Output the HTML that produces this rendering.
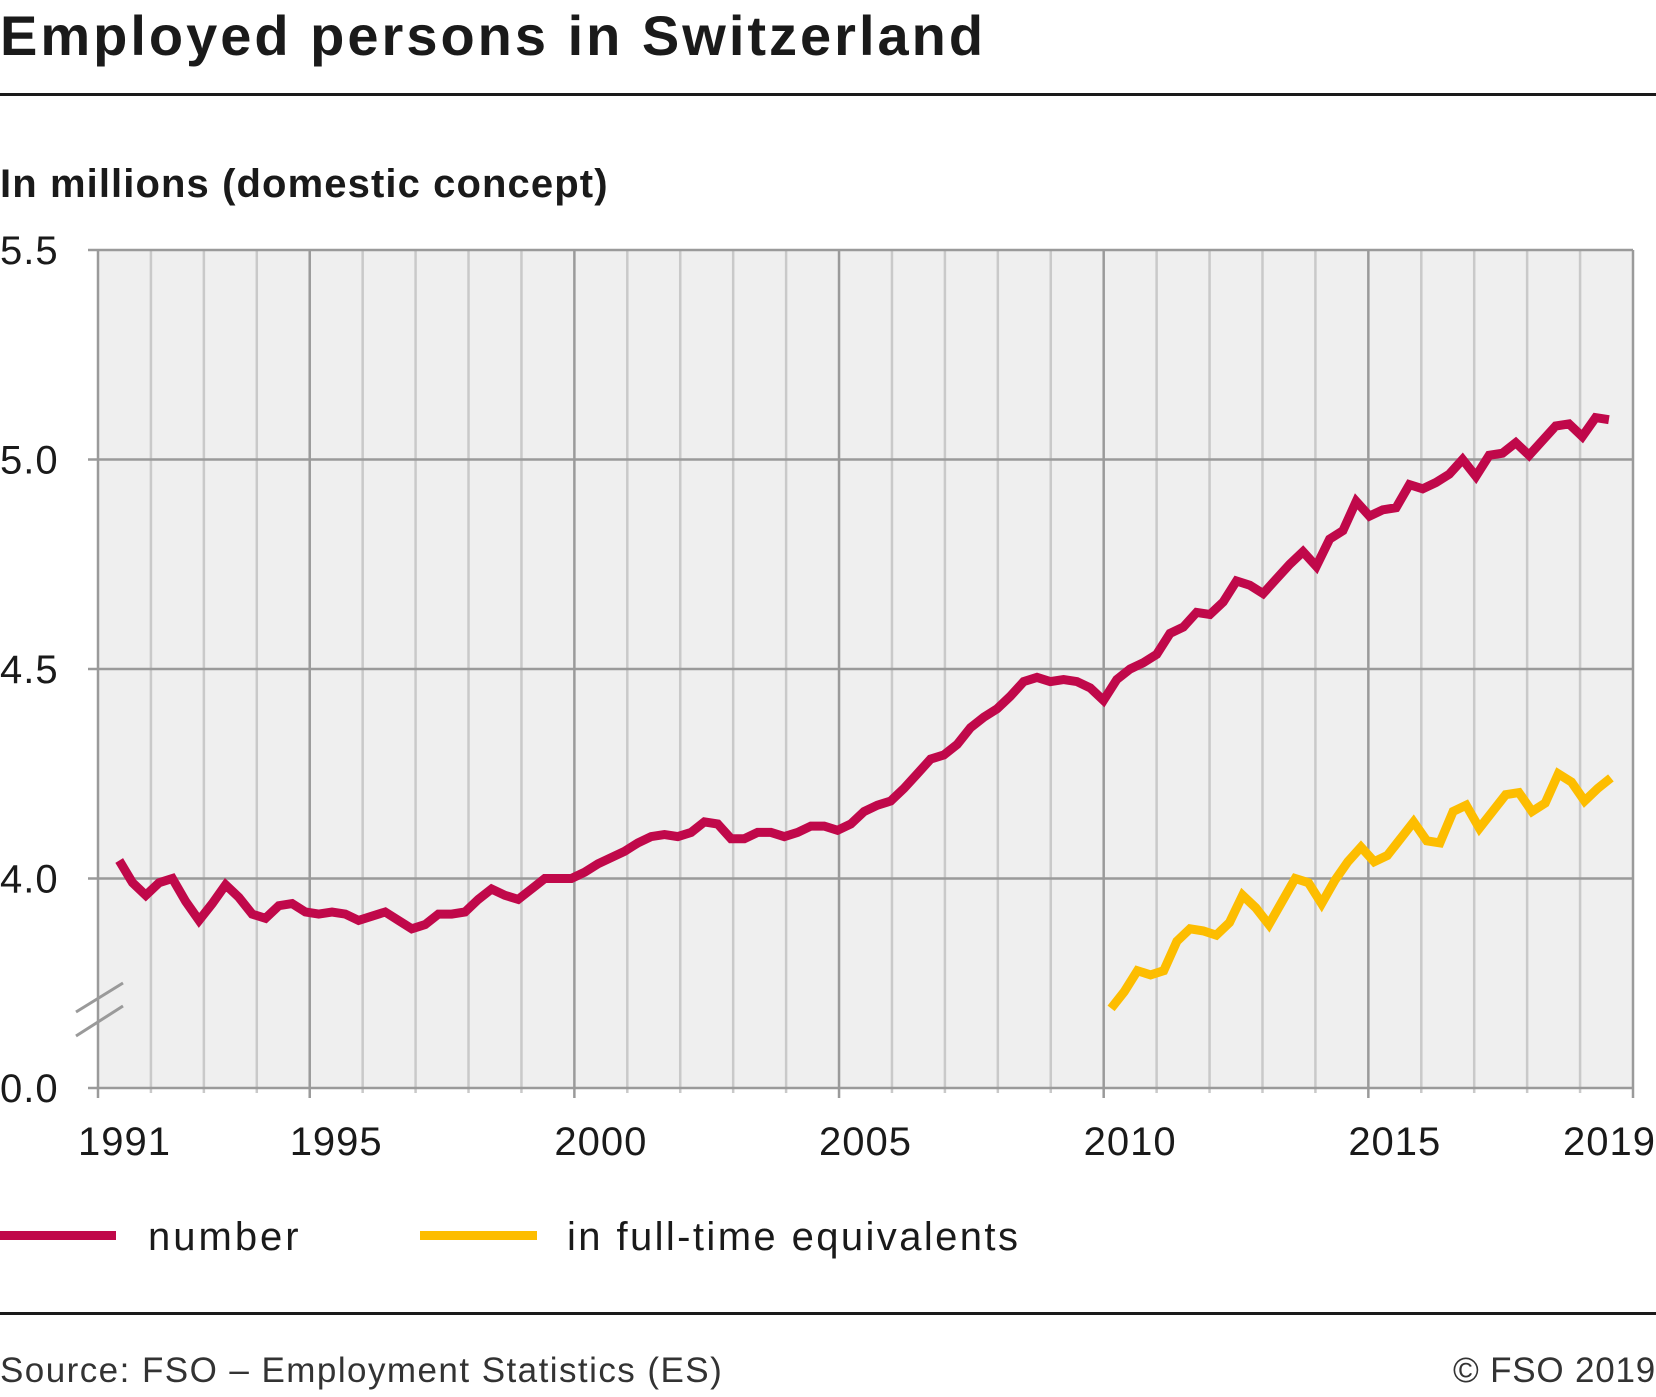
<!DOCTYPE html>
<html><head><meta charset="utf-8"><style>
body{margin:0;background:#fff;width:1656px;height:1392px;overflow:hidden;font-family:"Liberation Sans",sans-serif}
</style></head><body>
<svg width="1656" height="1392" xmlns="http://www.w3.org/2000/svg" id="svg" font-family="Liberation Sans, sans-serif">
<text x="0" y="55" font-size="56" font-weight="bold" fill="#1a1a1a" letter-spacing="3">Employed persons in Switzerland</text>
<rect x="0" y="93" width="1656" height="3" fill="#1a1a1a"/>
<text x="0" y="197" font-size="40" font-weight="bold" fill="#1a1a1a" letter-spacing="1.1">In millions (domestic concept)</text>
<rect x="98" y="250" width="1535" height="838" fill="#efefef"/>
<g id="grid"></g>
<g id="marks"></g>
<g>
<rect x="0" y="1231" width="116" height="9" fill="#c0084a"/>
<text x="148" y="1250" font-size="40" fill="#1a1a1a" letter-spacing="3">number</text>
<rect x="420" y="1231" width="117" height="9" fill="#fdbd00"/>
<text x="567" y="1250" font-size="40" fill="#1a1a1a" letter-spacing="2.4">in full-time equivalents</text>
</g>
<rect x="0" y="1312" width="1656" height="3" fill="#1a1a1a"/>
<text x="0" y="1382" font-size="35" fill="#333" letter-spacing="1.45">Source: FSO – Employment Statistics (ES)</text>
<text x="1656" y="1382" font-size="35" fill="#333" text-anchor="end" letter-spacing="0.8">© FSO 2019</text>
</svg>
<script>
const yTicks=[3.5,4.0,4.5,5.0,5.5];
const yTickLabels=["0.0","4.0","4.5","5.0","5.5"];
const xLabelYears=[1991,1995,2000,2005,2010,2015,2019];
const numberStart=1991.4;
const numberValues=[4.043,3.99,3.96,3.99,4.0,3.945,3.90,3.94,3.985,3.955,3.915,3.905,3.935,3.94,3.92,3.915,3.92,3.915,3.90,3.91,3.92,3.90,3.88,3.89,3.915,3.915,3.92,3.95,3.975,3.96,3.95,3.975,4.0,4.0,4.0,4.015,4.035,4.05,4.065,4.085,4.10,4.105,4.10,4.11,4.135,4.13,4.095,4.095,4.11,4.11,4.10,4.11,4.125,4.125,4.115,4.13,4.16,4.175,4.185,4.215,4.25,4.285,4.295,4.32,4.36,4.385,4.405,4.435,4.47,4.48,4.47,4.475,4.47,4.455,4.425,4.475,4.50,4.515,4.535,4.585,4.60,4.635,4.63,4.66,4.71,4.70,4.68,4.715,4.75,4.78,4.745,4.81,4.83,4.90,4.865,4.88,4.885,4.94,4.93,4.945,4.965,5.00,4.96,5.01,5.015,5.04,5.01,5.045,5.08,5.085,5.055,5.10,5.095];
const fteStart=2010.14;
const fteValues=[3.69,3.73,3.78,3.77,3.78,3.85,3.88,3.875,3.865,3.895,3.96,3.93,3.89,3.945,4.0,3.99,3.94,3.995,4.04,4.075,4.04,4.055,4.095,4.135,4.09,4.085,4.16,4.175,4.12,4.16,4.20,4.205,4.16,4.18,4.25,4.23,4.185,4.215,4.24];
const NUM_STEP=0.2513, FTE_STEP=0.2485;
const X0=98,X1=1633,Y0=1088,Y1=250,T0=1991,T1=2020,V0=3.5,V1=5.5;
const xs=t=>X0+(t-T0)/(T1-T0)*(X1-X0);
const ys=v=>Y0-(v-V0)/(V1-V0)*(Y0-Y1);
const NS="http://www.w3.org/2000/svg";
const grid=document.getElementById('grid'),marks=document.getElementById('marks');
function mk(tag,at,parent){const e=document.createElementNS(NS,tag);for(const k in at)e.setAttribute(k,at[k]);parent.appendChild(e);return e;}
for(let y=T0;y<=T1;y++){
  const major=(y%5===0)||y===T0||y===T1;
  const l=mk('line',{x1:xs(y),x2:xs(y),y1:Y1,y2:Y0+(major?10:5),stroke:major?'#9a9a9a':'#c9c9c9','stroke-width':2.5},grid);
  
  
}
yTicks.forEach((v,i)=>{
  const l=mk('line',{x1:X0-10,x2:X1,y1:ys(v),y2:ys(v),stroke:'#9a9a9a','stroke-width':2.5},grid);
  
  
  const t=mk('text',{x:0,y:ys(v)+14,'font-size':40,fill:'#1a1a1a','letter-spacing':1},grid);
  t.textContent=yTickLabels[i];
  
  
});
xLabelYears.forEach((y,i)=>{
  const last=i===xLabelYears.length-1;
  const t=mk('text',{x:last?1656:xs(y+0.5),y:1155,'font-size':40,fill:'#1a1a1a','text-anchor':last?'end':'middle','letter-spacing':1},grid);
  t.textContent=String(y);
  
  
});
[[1012,983],[1036,1006]].forEach(p=>{
  const l=mk('line',{x1:76,y1:p[0],x2:123,y2:p[1],stroke:'#9a9a9a','stroke-width':3},grid);
  
  
});
function series(start,step,vals,color,name){
  const d=vals.map((v,i)=>(i?'L':'M')+xs(start+i*step).toFixed(1)+','+ys(v).toFixed(1)).join(' ');
  const p=mk('path',{d:d,fill:'none',stroke:color,'stroke-width':9,'stroke-linejoin':'miter','stroke-miterlimit':2},marks);
  
  
}
series(numberStart,NUM_STEP,numberValues,'#c0084a','number-line');
series(fteStart,FTE_STEP,fteValues,'#fdbd00','fte-line');
</script>
</body></html>
